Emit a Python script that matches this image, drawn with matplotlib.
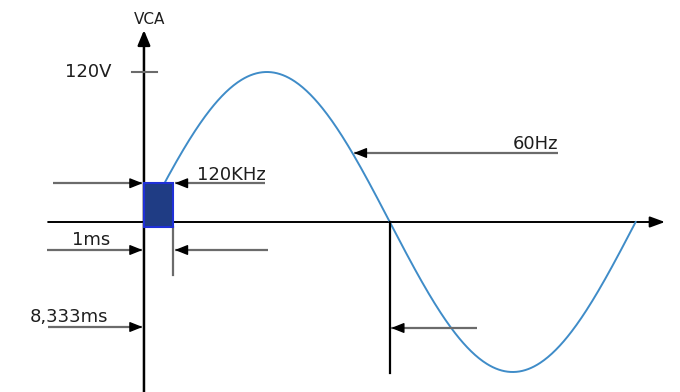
import numpy as np
import matplotlib
matplotlib.use('Agg')
import matplotlib.pyplot as plt
from matplotlib.patches import Rectangle

# mains signal
freq_hz = 60
amp_v = 120
half_period_ms = 1000.0 / freq_hz / 2      # 8,333 ms
# sampling pulse (120 kHz chopper window)
pulse_ms = 1.0
pulse_top_v = 31
pulse_bottom_v = -4

labels = {
    'axis': 'VCA',
    'amp': '120V',
    'pulse': '120KHz',
    'mains': '60Hz',
    'width': '1ms',
    'half': '8,333ms',
}

plt.rcParams['font.family'] = 'DejaVu Sans'
fig = plt.figure(figsize=(6.8, 3.92), dpi=100)
ax = fig.add_axes([0, 0, 1, 1])
ax.set_xlim(-4.88, 18.17)
ax.set_ylim(-136, 177.6)
ax.axis('off')

txt = '#1e1e1e'
shaft = '#6b6b6b'
fs = 13


def pointer(x_from, x_to, y):
    # gray shaft with a black filled head at x_to
    ax.plot([x_from, x_to], [y, y], color=shaft, lw=1.6, solid_capstyle='butt', zorder=3)
    d = 0.35 if x_from > x_to else -0.35
    ax.annotate('', xy=(x_to, y), xytext=(x_to + d, y),
                arrowprops=dict(arrowstyle='-|>,head_length=0.55,head_width=0.22',
                                color='black', lw=1, shrinkA=0, shrinkB=0,
                                mutation_scale=14), zorder=4)


# axes with arrow heads
ax.annotate('', xy=(0, 153.5), xytext=(0, -140),
            arrowprops=dict(arrowstyle='-|>,head_length=0.6,head_width=0.25',
                            color='black', lw=1.8, shrinkA=0, shrinkB=0,
                            mutation_scale=15), zorder=2)
ax.annotate('', xy=(17.66, 0), xytext=(-3.25, 0),
            arrowprops=dict(arrowstyle='-|>,head_length=0.6,head_width=0.22',
                            color='black', lw=1.4, shrinkA=0, shrinkB=0,
                            mutation_scale=15), zorder=2)
ax.text(0.2, 162, labels['axis'], ha='center', va='center', fontsize=11, color=txt)

# amplitude tick
ax.plot([-0.4, 0.45], [amp_v, amp_v], color=shaft, lw=1.5, zorder=2)
ax.text(-1.1, amp_v, labels['amp'], ha='right', va='center', fontsize=fs, color=txt)

# one period of the 60 Hz sine
t = np.linspace(0, 2 * half_period_ms, 500)
v = amp_v * np.sin(2 * np.pi * freq_hz * t / 1000.0)
ax.plot(t, v, color='#3f8cc8', lw=1.4, zorder=3)

# sampling pulse
ax.add_patch(Rectangle((0, pulse_bottom_v), pulse_ms, pulse_top_v - pulse_bottom_v,
                       facecolor='#1f3c84', edgecolor='#1f30d8', lw=1.5, zorder=5))

# 120 kHz pulse markers
pointer(-3.08, -0.05, pulse_top_v)
pointer(4.1, pulse_ms + 0.05, pulse_top_v)
ax.text(1.8, pulse_top_v + 3, labels['pulse'], ha='left', va='baseline', fontsize=fs, color=txt)

# 1 ms width markers
y_w = -22.4
ax.plot([pulse_ms, pulse_ms], [pulse_bottom_v, -42.4], color=shaft, lw=1.6, zorder=3)
pointer(-3.29, -0.05, y_w)
pointer(4.2, pulse_ms + 0.05, y_w)
ax.text(-1.8, y_w + 4, labels['width'], ha='center', va='baseline', fontsize=fs, color=txt)

# half period markers
y_h = -84
pointer(-3.25, -0.05, y_h)
ax.text(-2.55, y_h + 4, labels['half'], ha='center', va='baseline', fontsize=fs, color=txt)
ax.plot([half_period_ms, half_period_ms], [0, -120.8], color='black', lw=1.6, zorder=3)
pointer(11.29, half_period_ms + 0.05, y_h - 0.8)

# 60 Hz pointer ends on the falling edge of the sine
y_f = 55.2
t_hit = (np.pi - np.arcsin(y_f / amp_v)) / (2 * np.pi * freq_hz) * 1000.0
pointer(14.03, t_hit + 0.05, y_f)
ax.text(14.03, y_f + 3.5, labels['mains'], ha='right', va='baseline', fontsize=fs, color=txt)

fig.savefig('out.png', dpi=100)
